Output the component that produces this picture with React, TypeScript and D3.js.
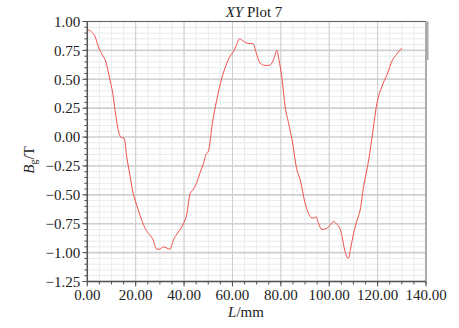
import React from "react";
import * as d3 from "d3";

const lengths = [0, 1.8, 3.2, 4.6, 6, 7.7, 9.1, 10.5, 11.5, 12.8, 13.8, 15.2, 16.3, 17.7, 19, 20.6, 22.5, 23.9, 25.9, 27, 28.7, 30, 31.4, 32.8, 34.2, 35.6, 37, 38.4, 39.7, 41.1, 42.5, 43.9, 45.3, 46.6, 48, 49.1, 50.1, 51.7, 53.5, 55.6, 57.7, 59, 60.4, 61.5, 62.9, 64.5, 66.6, 68.4, 70.1, 71.4, 73.5, 74.9, 76.3, 77, 78.4, 79.2, 80.4, 81.8, 83.2, 84.6, 86.6, 88, 90, 91.4, 92.8, 93.5, 94.6, 95.6, 97, 99, 100.4, 101.8, 102.9, 104.6, 105.3, 106.4, 107.4, 108, 108.7, 110.1, 111.5, 112.8, 114.2, 116.3, 118, 119.7, 121.8, 123.9, 126, 128, 130];
const bg = [0.93, 0.91, 0.87, 0.78, 0.72, 0.65, 0.52, 0.38, 0.23, 0.06, 0.0, -0.01, -0.17, -0.34, -0.49, -0.6, -0.72, -0.79, -0.85, -0.88, -0.97, -0.97, -0.95, -0.96, -0.97, -0.89, -0.84, -0.8, -0.75, -0.67, -0.49, -0.45, -0.39, -0.31, -0.23, -0.15, -0.12, 0.12, 0.32, 0.51, 0.64, 0.7, 0.74, 0.79, 0.85, 0.83, 0.81, 0.81, 0.71, 0.64, 0.62, 0.62, 0.64, 0.67, 0.75, 0.67, 0.52, 0.26, 0.12, -0.02, -0.28, -0.37, -0.57, -0.66, -0.7, -0.7, -0.69, -0.75, -0.8, -0.79, -0.76, -0.73, -0.75, -0.8, -0.86, -0.98, -1.04, -1.05, -0.98, -0.83, -0.72, -0.63, -0.43, -0.2, 0.045, 0.29, 0.44, 0.54, 0.66, 0.72, 0.77];

const xTicks = [0, 20, 40, 60, 80, 100, 120, 140];
const yTicks = [1.0, 0.75, 0.5, 0.25, 0, -0.25, -0.5, -0.75, -1.0, -1.25];
const xMinor = d3.range(0, 140.001, 5);
const yMinor = d3.range(-1.25, 1.0001, 0.05);

const W = 459, H = 328;
const left = 87.3, right = 426, top = 21.5, bottom = 281.5;
const font = "'Liberation Serif', 'Times New Roman', serif";

const fmt = (v: number) => (v < 0 ? "\u2212" : "") + Math.abs(v).toFixed(2);

export default function App() {
  const x = d3.scaleLinear().domain([0, 140]).range([left, right]);
  const y = d3.scaleLinear().domain([-1.25, 1.0]).range([bottom, top]);
  const pts = lengths.map((l, i) => [l, bg[i]] as [number, number]);
  const line = d3.line<[number, number]>().x(d => x(d[0])).y(d => y(d[1])).curve(d3.curveMonotoneX);
  return (
    <svg width={W} height={H} style={{ position: "absolute", left: 0, top: 0 }} fontFamily={font}>
      <rect x={0} y={0} width={W} height={H} fill="#fff" />
      {/* minor grid */}
      {xMinor.map(v => (
        <line key={"xm" + v} x1={x(v)} x2={x(v)} y1={top} y2={bottom} stroke="#e8ecec" strokeWidth={1} />
      ))}
      {yMinor.map(v => (
        <line key={"ym" + v} x1={left} x2={right} y1={y(v)} y2={y(v)} stroke="#e8ecec" strokeWidth={1} />
      ))}
      {/* major grid */}
      {xTicks.map(v => (
        <line key={"xg" + v} x1={x(v)} x2={x(v)} y1={top} y2={bottom} stroke="#cccccc" strokeWidth={1} />
      ))}
      {yTicks.map(v => (
        <line key={"yg" + v} x1={left} x2={right} y1={y(v)} y2={y(v)} stroke="#d0d0d0" strokeWidth={1.6} />
      ))}
      {/* frame */}
      <line x1={left} x2={right} y1={top} y2={top} stroke="#666" strokeWidth={1.2} />
      <line x1={right} x2={right} y1={top} y2={bottom} stroke="#888" strokeWidth={1.2} />
      <line x1={right + 1.5} x2={right + 1.5} y1={top} y2={60} stroke="#aaa" strokeWidth={2} />
      {/* curve */}
      <path d={line(pts) || ""} fill="none" stroke="#f0504a" strokeWidth={1} />
      {/* left axis */}
      <line x1={left} x2={left} y1={top} y2={bottom} stroke="#555" strokeWidth={1.5} />
      {yMinor.map(v => (
        <line key={"ymt" + v} x1={left - 3} x2={left} y1={y(v)} y2={y(v)} stroke="#555" strokeWidth={1} />
      ))}
      {yTicks.map(v => (
        <g key={"yt" + v}>
          <line x1={left - 5} x2={left} y1={y(v)} y2={y(v)} stroke="#555" strokeWidth={1} />
          <text x={left - 7} y={y(v)} dy="0.35em" textAnchor="end" fontSize={15} fill="#222">{fmt(v)}</text>
        </g>
      ))}
      {/* bottom axis */}
      <line x1={left} x2={right} y1={bottom} y2={bottom} stroke="#555" strokeWidth={1.5} />
      {xMinor.map(v => (
        <line key={"xmt" + v} x1={x(v)} x2={x(v)} y1={bottom} y2={bottom + 3} stroke="#555" strokeWidth={1} />
      ))}
      {xTicks.map(v => (
        <g key={"xt" + v}>
          <line x1={x(v)} x2={x(v)} y1={bottom} y2={bottom + 5} stroke="#555" strokeWidth={1} />
          <text x={x(v)} y={bottom + 18.5} textAnchor="middle" fontSize={15} fill="#222">{v.toFixed(2)}</text>
        </g>
      ))}
      {/* title */}
      <text x={254} y={17} textAnchor="middle" fontSize={15} fill="#222">
        <tspan fontStyle="italic">XY</tspan> Plot 7
      </text>
      {/* x label */}
      <text x={246} y={317} textAnchor="middle" fontSize={15} fill="#222">
        <tspan fontStyle="italic">L</tspan>/mm
      </text>
      {/* y label */}
      <text transform={`translate(34, 160) rotate(-90)`} textAnchor="middle" fontSize={15} fill="#222">
        <tspan fontStyle="italic">B</tspan>
        <tspan fontSize={10} dy={3}>g</tspan>
        <tspan dy={-3}>/T</tspan>
      </text>
    </svg>
  );
}
